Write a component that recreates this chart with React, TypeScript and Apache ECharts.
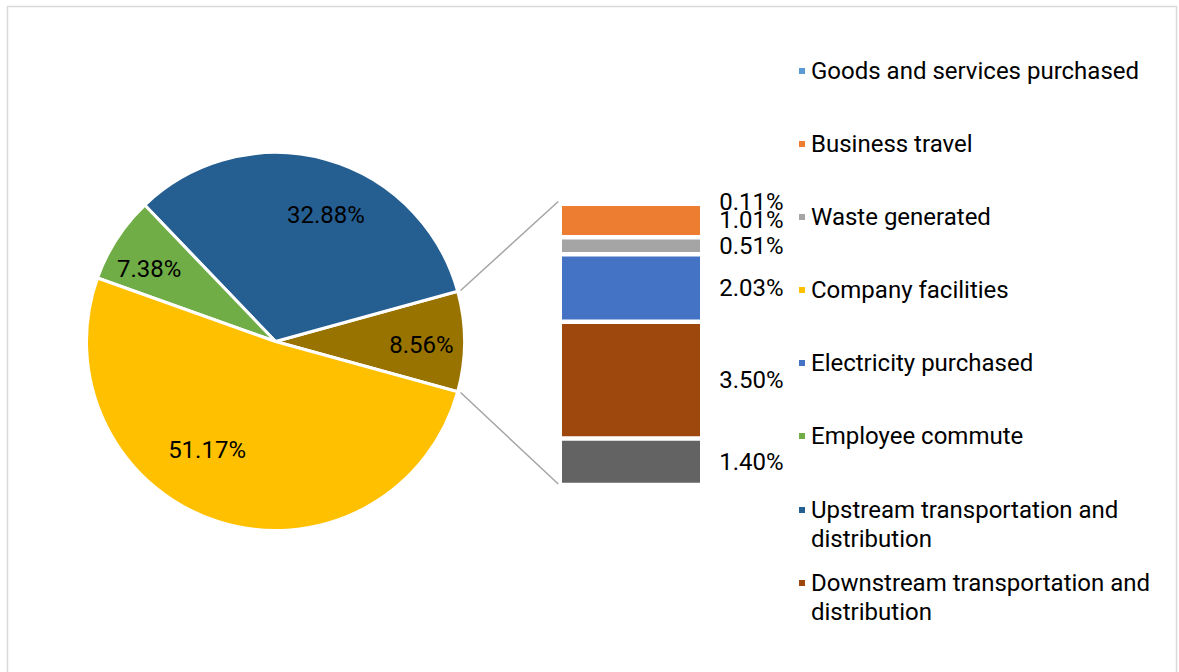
import React, { useEffect, useRef } from "react";
import * as echarts from "echarts";

// ---- Data ----
// Pie slices (counter-clockwise from the 3 o'clock "Other" slice)
const pieNames = [
  "Other",
  "Upstream transportation and distribution",
  "Employee commute",
  "Company facilities",
];
const pieValues = [8.56, 32.88, 7.38, 51.17];
const pieColors = ["#997300", "#255E91", "#70AD47", "#FFC000"];

// Stacked bar that breaks down "Other" (bottom to top)
const barNames = [
  "Other sources",
  "Downstream transportation and distribution",
  "Electricity purchased",
  "Waste generated",
  "Business travel",
  "Goods and services purchased",
];
const barValues = [1.4, 3.5, 2.03, 0.51, 1.01, 0.11];
const barColors = ["#636363", "#9E480E", "#4472C4", "#A5A5A5", "#ED7D31", "#5B9BD5"];

const legendSingle = [
  "Goods and services purchased",
  "Business travel",
  "Waste generated",
  "Company facilities",
  "Electricity purchased",
  "Employee commute",
];
const legendWrapped = [
  "Upstream transportation and distribution",
  "Downstream transportation and distribution",
];

// ---- Layout ----
const W = 1179;
const H = 672;
const PIE_CX = 275.5;
const PIE_CY = 341.5;
const PIE_R = 189;
const LABEL_RATIO = 0.73;
// per-slice label nudges (pixels), same order as pieNames
const PIE_LABEL_NUDGE = [
  [5, 3],
  [13, 9],
  [-8, 4],
  [-26, -26],
];
const GRID_LEFT = 559.75;
const GRID_TOP = 200;
const GRID_W = 142.5;
const GRID_H = 285;
const FONT = "Roboto, 'Noto Sans', sans-serif";
const FS = 24;
const TEXT = "#000000";

const colorOf: Record<string, string> = {};
pieNames.forEach((n, i) => (colorOf[n] = pieColors[i]));
barNames.forEach((n, i) => (colorOf[n] = barColors[i]));

export default function App() {
  const ref = useRef<HTMLDivElement>(null);

  useEffect(() => {
    if (!ref.current) return;
    const chart = echarts.init(ref.current, null, { renderer: "svg" });

    const pieTotal = pieValues.reduce((a, b) => a + b, 0);
    const barTotal = barValues.reduce((a, b) => a + b, 0);
    const halfDeg = (pieValues[0] / pieTotal) * 180;

    const pieData = pieNames.map((n, i) => ({
      name: n,
      value: pieValues[i],
      itemStyle: { color: pieColors[i] },
    }));

    const legendCommon = {
      orient: "vertical" as const,
      left: 797,
      padding: 0,
      icon: "rect",
      itemWidth: 8,
      itemHeight: 8,
      selectedMode: false,
    };

    const frame = {
      id: "frame",
      type: "rect",
      shape: { x: 7.5, y: 6.5, width: 1169, height: 700 },
      style: { fill: "none", stroke: "#d9d9d9", lineWidth: 1.5 },
      silent: true,
    };

    const option: any = {
      animation: false,
      backgroundColor: "#ffffff",
      textStyle: { fontFamily: FONT },
      legend: [
        {
          ...legendCommon,
          top: 56.5,
          itemGap: 44,
          data: legendSingle.map((n) => ({ name: n, itemStyle: { color: colorOf[n] } })),
          textStyle: { fontFamily: FONT, fontSize: FS, color: TEXT, lineHeight: 29 },
        },
        ...legendWrapped.map((n, k) => ({
          ...legendCommon,
          top: 466.5 + k * 73,
          data: [{ name: n, itemStyle: { color: colorOf[n] } }],
          // leading blank line keeps the first text line level with the icon
          formatter: (name: string) => "\n" + name,
          textStyle: {
            fontFamily: FONT,
            fontSize: FS,
            color: TEXT,
            lineHeight: 29,
            width: 360,
            overflow: "break",
          },
        })),
      ],
      grid: { left: GRID_LEFT, top: GRID_TOP, width: GRID_W, height: GRID_H },
      xAxis: { type: "category", data: ["Other"], show: false },
      yAxis: { type: "value", min: 0, max: barTotal, show: false },
      series: [
        {
          type: "pie",
          center: [PIE_CX, PIE_CY],
          radius: [0, PIE_R],
          startAngle: -halfDeg,
          clockwise: false,
          silent: true,
          label: { show: false },
          labelLine: { show: false },
          itemStyle: { borderColor: "#ffffff", borderWidth: 3 },
          emphasis: { disabled: true },
          data: pieData,
        },
        {
          type: "pie",
          center: [PIE_CX, PIE_CY],
          radius: [0, PIE_R * LABEL_RATIO * 2],
          startAngle: -halfDeg,
          clockwise: false,
          silent: true,
          z: 5,
          itemStyle: { color: "rgba(0,0,0,0)" },
          labelLine: { show: false },
          emphasis: { disabled: true },
          data: pieNames.map((n, i) => ({
            name: n,
            value: pieValues[i],
            label: {
              show: true,
              position: "inside",
              fontFamily: FONT,
              fontSize: FS,
              color: TEXT,
              offset: PIE_LABEL_NUDGE[i],
              formatter: (p: any) => `${Number(p.value).toFixed(2)}%`,
            },
          })),
        },
        ...barNames.map((n, i) => ({
          type: "bar",
          name: n,
          stack: "other",
          barWidth: "100%",
          silent: true,
          data: [barValues[i]],
          itemStyle: { color: barColors[i], borderColor: "#ffffff", borderWidth: 2.25 },
          label: {
            show: true,
            position: "right",
            distance: 17,
            fontFamily: FONT,
            fontSize: FS,
            color: TEXT,
            formatter: (p: any) => `${Number(p.value).toFixed(2)}%`,
          },
        })),
      ],
      graphic: [frame],
    };

    chart.setOption(option);

    const yTop = chart.convertToPixel({ yAxisIndex: 0 }, barTotal) as number;
    const yBot = chart.convertToPixel({ yAxisIndex: 0 }, 0) as number;
    const rad = (halfDeg * Math.PI) / 180;
    const rr = PIE_R + 3;
    const p1 = [PIE_CX + rr * Math.cos(rad), PIE_CY - rr * Math.sin(rad)];
    const p2 = [PIE_CX + rr * Math.cos(rad), PIE_CY + rr * Math.sin(rad)];

    chart.setOption({
      graphic: [
        frame,
        {
          id: "conn1",
          type: "line",
          shape: { x1: p1[0], y1: p1[1], x2: GRID_LEFT - 1.5, y2: yTop + 1.5 },
          style: { stroke: "#a5a5a5", lineWidth: 1.5 },
          silent: true,
        },
        {
          id: "conn2",
          type: "line",
          shape: { x1: p2[0], y1: p2[1], x2: GRID_LEFT - 1.5, y2: yBot - 1 },
          style: { stroke: "#a5a5a5", lineWidth: 1.5 },
          silent: true,
        },
      ],
    });

    return () => chart.dispose();
  }, []);

  return (
    <div
      ref={ref}
      style={{ position: "fixed", left: 0, top: 0, width: W, height: H, background: "#fff" }}
    />
  );
}
